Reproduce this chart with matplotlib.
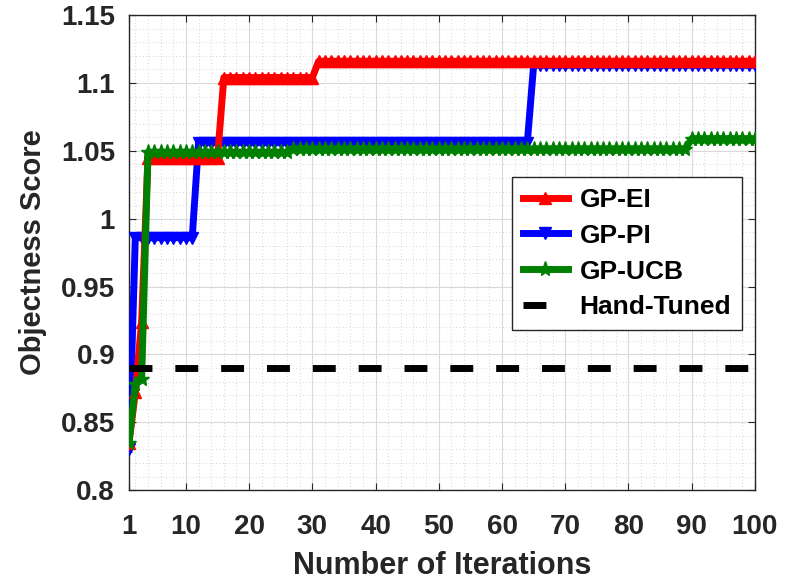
import matplotlib
matplotlib.use("Agg")
import matplotlib.pyplot as plt
from matplotlib.ticker import MultipleLocator, FuncFormatter
import numpy as np

iterations = np.arange(1, 101)

# best objectness score found so far, per iteration
gp_ei = [0.835, 0.872, 0.924] + [1.045] * 12 + [1.104] * 15 + [1.116] * 70
gp_pi = [0.830] + [0.986] * 10 + [1.056] * 53 + [1.113] * 36
gp_ucb = [0.835, 0.878, 0.882] + [1.049] * 23 + [1.0515] * 63 + [1.059] * 11
hand_tuned = 0.89

x_ticks = [1, 10, 20, 30, 40, 50, 60, 70, 80, 90, 100]
y_ticks = [0.8, 0.85, 0.9, 0.95, 1.0, 1.05, 1.1, 1.15]

plt.rcParams["font.family"] = ["Liberation Sans", "DejaVu Sans"]
plt.rcParams["font.weight"] = "bold"

fig = plt.figure(figsize=(7.88, 5.8), dpi=100)
ax = fig.add_axes([0.1637, 0.155, 0.7943, 0.819])

ax.plot(iterations, gp_ei, color="#ff0000", lw=5, marker="^", ms=9, label="GP-EI", zorder=4)
ax.plot(iterations, gp_pi, color="#0000ff", lw=5, marker="v", ms=9, label="GP-PI", zorder=3)
ax.plot(iterations, gp_ucb, color="#008000", lw=5, marker="*", ms=11, label="GP-UCB", zorder=5)
ax.plot([1, 100], [hand_tuned, hand_tuned], color="black", lw=5, dashes=(3.3, 3.3),
        label="Hand-Tuned", zorder=6)

ax.set_xlim(1, 100)
ax.set_ylim(0.8, 1.15)
ax.set_xticks(x_ticks)
ax.set_yticks(y_ticks)
ax.xaxis.set_minor_locator(MultipleLocator(2))
ax.yaxis.set_minor_locator(MultipleLocator(0.01))
ax.yaxis.set_major_formatter(FuncFormatter(lambda v, p: f"{v:g}"))

ax.grid(which="major", color="#d9d9d9", lw=0.8)
ax.grid(which="minor", color="#c8c8c8", lw=0.6, linestyle=(0, (1, 3)))
ax.set_axisbelow(True)

ax.tick_params(which="both", direction="in", top=True, right=True, colors="#262626")
ax.tick_params(which="major", length=5)
ax.tick_params(which="minor", length=0)
ax.tick_params(axis="y", labelsize=20, pad=10)
ax.tick_params(axis="x", labelsize=20, pad=17)
for lbl in ax.get_xticklabels() + ax.get_yticklabels():
    lbl.set_fontweight("bold")
for s in ax.spines.values():
    s.set_color("#262626")
    s.set_linewidth(1.0)

ax.set_xlabel("Number of Iterations", fontsize=22, fontweight="bold", color="#262626", labelpad=8)
ax.set_ylabel("Objectness Score", fontsize=21, fontweight="bold", color="#262626", labelpad=10)

leg = ax.legend(loc="lower right", bbox_to_anchor=(0.979, 0.337), borderaxespad=0, fontsize=19,
                frameon=True, fancybox=False, edgecolor="#262626", framealpha=1,
                handlelength=1.7, handletextpad=0.45, borderpad=0.4, labelspacing=0.45)
leg.get_frame().set_linewidth(1.0)
for t in leg.get_texts():
    t.set_fontweight("bold")

fig.savefig("out.png", dpi=100)
